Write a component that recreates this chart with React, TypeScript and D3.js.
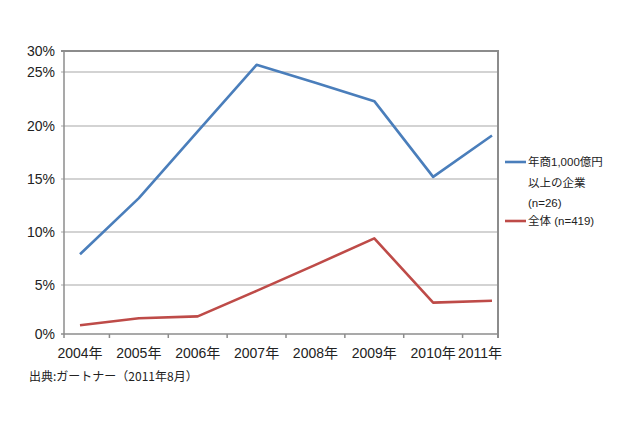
import * as d3 from 'd3';

const years = ['2004年', '2005年', '2006年', '2007年', '2008年', '2009年', '2010年', '2011年'];
const largeCorp = [7.9, 13.2, 19.5, 26.7, 24.0, 22.3, 15.2, 19.1];
const allCorp = [0.9, 1.6, 1.8, 4.4, 6.9, 9.4, 3.2, 3.4];
const yTicks = [0, 5, 10, 15, 20, 25, 30];
const legendLarge = ['年商1,000億円', '以上の企業', '(n=26)'];
const legendAll = '全体 (n=419)';
const source = '出典:ガートナー（2011年8月）';

const BLUE = '#4a7ebb';
const RED = '#be4b48';
const FONT = '"Liberation Sans", Arial, "Noto Sans CJK JP", sans-serif';

export default function App() {
  const W = 640;
  const H = 426;
  const plot = { left: 64, right: 498, top: 51, bottom: 334 };

  // category points; the picture is cropped so the first/last points sit inside the frame
  const x = d3.scalePoint<string>().domain(years).range([80, 492]);
  const step = x.step();
  // the source image's y axis is not evenly spaced; follow its gridline positions
  const y = d3
    .scaleLinear()
    .domain(yTicks)
    .range([plot.bottom, 285, 232, 179, 126, 72, plot.top]);

  const line = d3
    .line<number>()
    .x((_, i) => x(years[i]) ?? 0)
    .y((d) => y(d));

  const xTickPos = years.slice(0, -1).map((yr) => (x(yr) ?? 0) + step / 2);

  return (
    <svg
      width={W}
      height={H}
      style={{ position: 'absolute', left: 0, top: 0, background: '#fff' }}
      fontFamily={FONT}
    >
      {/* gridlines */}
      {yTicks.map((v) => (
        <line
          key={v}
          x1={plot.left - 3}
          x2={plot.right}
          y1={y(v)}
          y2={y(v)}
          stroke={v === 30 || v === 0 ? '#8c8c8c' : '#c4c4c4'}
          strokeWidth={v === 30 ? 2 : 1.5}
        />
      ))}

      {/* frame */}
      <line x1={plot.left} x2={plot.left} y1={plot.top} y2={plot.bottom + 4} stroke="#8c8c8c" strokeWidth={1.5} />
      <line x1={plot.right} x2={plot.right} y1={plot.top - 1} y2={plot.bottom + 4} stroke="#8c8c8c" strokeWidth={2} />
      {xTickPos.map((p, i) => (
        <line key={i} x1={p} x2={p} y1={plot.bottom} y2={plot.bottom + 4} stroke="#8c8c8c" strokeWidth={1.5} />
      ))}

      {/* y labels */}
      {yTicks.map((v) => (
        <text
          key={`yl-${v}`}
          x={55}
          y={y(v)}
          dy="0.36em"
          textAnchor="end"
          fontSize={14}
          fill="#222"
        >
          {`${v}%`}
        </text>
      ))}

      {/* x labels */}
      {years.map((yr, i) => {
        const last = i === years.length - 1;
        return (
          <text
            key={yr}
            x={last ? plot.right + 4 : x(yr)}
            y={358}
            textAnchor={last ? 'end' : 'middle'}
            fontSize={14}
            fill="#222"
          >
            {yr}
          </text>
        );
      })}

      {/* series */}
      <path d={line(largeCorp) ?? undefined} fill="none" stroke={BLUE} strokeWidth={2.6} strokeLinejoin="round" />
      <path d={line(allCorp) ?? undefined} fill="none" stroke={RED} strokeWidth={2.6} strokeLinejoin="round" />

      {/* legend */}
      <line x1={505} x2={526} y1={162} y2={162} stroke={BLUE} strokeWidth={2.6} />
      {legendLarge.map((t, i) => (
        <text key={t} x={528} y={162 + i * 20.5} dy="0.36em" fontSize={11.5} fill="#222">
          {t}
        </text>
      ))}
      <line x1={505} x2={526} y1={221} y2={221} stroke={RED} strokeWidth={2.6} />
      <text x={528} y={221} dy="0.36em" fontSize={11.5} fill="#222">
        {legendAll}
      </text>

      {/* source */}
      <text x={29} y={381} fontSize={12} fill="#222" fontFamily={'"Noto Sans CJK JP", sans-serif'}>
        {source}
      </text>
    </svg>
  );
}
